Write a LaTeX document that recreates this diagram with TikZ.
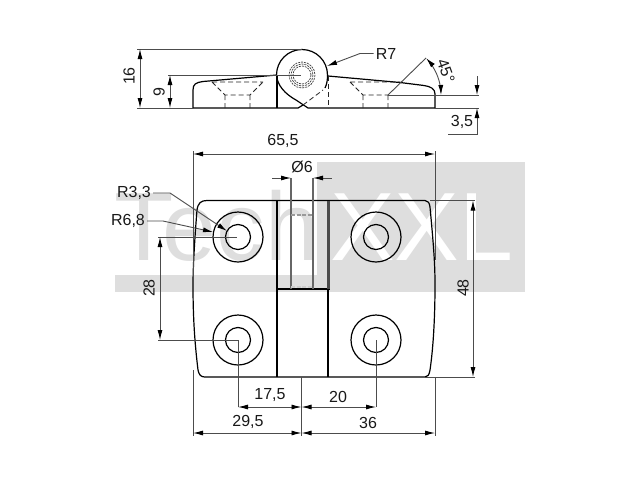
\documentclass[tikz,border=0pt]{standalone}
\usepackage{fontspec}
\setmainfont{Liberation Sans}
\usetikzlibrary{arrows.meta}
\tikzset{
  x=1pt,y=-1pt,
  outline/.style={draw=black,line width=1.2pt,line join=round},
  hidden/.style={draw=black!85,line width=0.8pt,dash pattern=on 5pt off 3pt},
  thin dim/.style={draw=black!70,line width=0.9pt},
  dimarrow/.style={thin dim,{Latex[length=10pt,width=5pt,black]}-{Latex[length=10pt,width=5pt,black]}},
  endarrow/.style={thin dim,-{Latex[length=10pt,width=5pt,black]}},
  startarrow/.style={thin dim,{Latex[length=10pt,width=5pt,black]}-},
  lbl/.style={inner sep=0pt,text=black!90,font=\fontsize{16}{16}\selectfont},
  mark text/.style={inner sep=0pt,anchor=base west,font=\fontsize{97}{97}\selectfont},
}
\begin{document}
\begin{tikzpicture}
\useasboundingbox (0,0) rectangle (640,480);
\fill[white] (0,0) rectangle (640,480);
% watermark
\fill[black!13] (317,162) rectangle (525,292);
\fill[black!13] (115,275) rectangle (317,292);
\node[mark text,text=black!13] (marktech) at (114,260) {Tech};
\node[mark text,text=white] (markxxl) at (330,260) {XXL};
% side view outline
\draw[outline] (193,108) -- (193,90) .. controls (193,84) and (196,82.5) .. (203,81.5) -- (277,75);
\draw[outline] (277,75) -- (277,108);
\draw[outline] (193,108) -- (298,108) -- (303,105);
\draw[outline] (276.5,75) arc[start angle=180,delta angle=180,radius=25.5];
\draw[outline] (276.5,75) .. controls (277,85) and (285,94) .. (296,100) -- (308,108) -- (435,108);
\draw[outline] (328,76) -- (400,82.5) -- (424,85.5) .. controls (431,86.5) and (435,89) .. (435,94) -- (435,108);
\draw[outline] (327.5,75) .. controls (327.5,80) and (327,84) .. (325,88);
% side view hidden
\draw[hidden] (303,105) -- (323,90);
\draw[hidden] (328,76) -- (328,108);
\draw[hidden] (212,82) -- (263,82) (212,82) -- (225,95) -- (250,95) -- (263,82) (225,95) -- (225,108) (250,95) -- (250,108);
\draw[hidden] (350,82) -- (400,82) (350,82) -- (363,95) -- (388,95) (363,95) -- (363,108) (388,95) -- (388,108);
\draw[draw=black!75,line width=0.7pt,dash pattern=on 2pt off 1pt] (302,75) circle[radius=13];
\draw[draw=black!75,line width=0.7pt,dash pattern=on 2pt off 1pt] (302,75) circle[radius=11];
\draw[draw=black!75,line width=0.7pt,dash pattern=on 2pt off 1pt] (302,75) circle[radius=9];
% side view dimensions
\draw[thin dim] (137,49) -- (302,49) (137,108) -- (193,108);
\draw[dimarrow] (140,49) -- (140,108);
\node[lbl,rotate=90] (d16) at (129,76) {16};
\draw[thin dim] (168,75) -- (301,75) (168,108) -- (193,108);
\draw[dimarrow] (170,75) -- (170,108);
\node[lbl,rotate=90] (d9) at (159,92) {9};
\node[lbl] (r7) at (386,53.5) {R7};
\coordinate (r7tip) at (327,66);
\draw[endarrow] (r7.west) ++(-2,0) -- (360,53.5) -- (r7tip);
\draw[thin dim] (388,95) -- (426,58);
\draw[thin dim] (388,95) -- (479,95) (435,108) -- (479,108);
\draw[dimarrow] plot[smooth,domain=-44:0,samples=12] ({388+53*cos(\x)},{95+53*sin(\x)});
\node[lbl,rotate=-70] (d45) at (446,71) {45°};
\draw[endarrow] (477,76) -- (477,95);
\draw[endarrow] (448,134.5) -- (477,134.5) -- (477,108);
\node[lbl] (d35) at (462,122) {3,5};
% top view outline
\draw[outline] (207,200.5) -- (425,200.5) .. controls (428,200.5) and (429.5,203) .. (430,207)
  .. controls (434,250) and (435,265) .. (435,285) .. controls (435,320) and (433,350) .. (430,370)
  .. controls (429,375) and (428,377) .. (425,377) -- (205,377)
  .. controls (201,377) and (199,375) .. (198,370) .. controls (195,345) and (193,320) .. (193,285)
  .. controls (193,265) and (195,235) .. (197,210) .. controls (198,203) and (201,200.5) .. (207,200.5) -- cycle;
\draw[outline] (277,200.5) -- (277,377) (328,289) -- (328,377) (277,289) -- (329.5,289);
\draw[draw=black!70,line width=2.8pt] (328.5,200.5) -- (328.5,289);
% holes
\foreach \n/\cx/\cy in {tl/238/237,tr/376/237,bl/238/340,br/376/340}{
  \draw[outline] (\cx,\cy) circle[radius=25];
  \draw[outline] (\cx,\cy) circle[radius=12.5];
}
% bore
\draw[draw=black!60,line width=1.1pt] (291,178) -- (291,289) (313,178) -- (313,289);
\draw[draw=black!40,line width=1.2pt,dash pattern=on 4pt off 1.5pt] (291,215) -- (313,215);
\draw[draw=black!20,line width=1.2pt,dash pattern=on 4pt off 1.5pt] (291,287) -- (313,287);
% top view dimensions
\draw[startarrow] (291,178) -- (272,178);
\draw[startarrow] (313,178) -- (332,178);
\node[lbl] (d6) at (302,166.5) {Ø6};
\draw[thin dim] (193,151) -- (193,290) (435,151) -- (435,260) (193,370) -- (193,436) (435,377) -- (435,436);
\draw[dimarrow] (193,154) -- (435,154);
\node[lbl] (d655) at (283,141) {65,5};
\node[lbl] (r33) at (134,193) {R3,3};
\coordinate (r33tip) at (227,231);
\draw[endarrow] (r33.east) ++(2,0) -- (170,193) -- (r33tip);
\node[lbl] (r68) at (128,221) {R6,8};
\coordinate (r68tip) at (213,232);
\draw[endarrow] (r68.east) ++(2,0) -- (163,221) -- (r68tip);
\draw[thin dim] (158,237) -- (237,237) (158,340) -- (238,340);
\draw[dimarrow] (160,237) -- (160,340);
\node[lbl,rotate=90] (d28) at (149,288) {28};
\draw[thin dim] (430,200.5) -- (475,200.5) (425,377) -- (475,377);
\draw[dimarrow] (473,200.5) -- (473,377);
\node[lbl,rotate=90] (d48) at (463,288) {48};
\draw[thin dim] (238,340) -- (238,407) (376,340) -- (376,407) (301.5,377) -- (301.5,436);
\draw[dimarrow] (238,407) -- (301.5,407);
\draw[dimarrow] (301.5,407) -- (376,407);
\draw[dimarrow] (193,433) -- (301.5,433);
\draw[dimarrow] (301.5,433) -- (435,433);
\node[lbl] (d175) at (270,395) {17,5};
\node[lbl] (d20) at (338,397) {20};
\node[lbl] (d295) at (248,422) {29,5};
\node[lbl] (d36) at (368,423) {36};
\end{tikzpicture}
\end{document}
